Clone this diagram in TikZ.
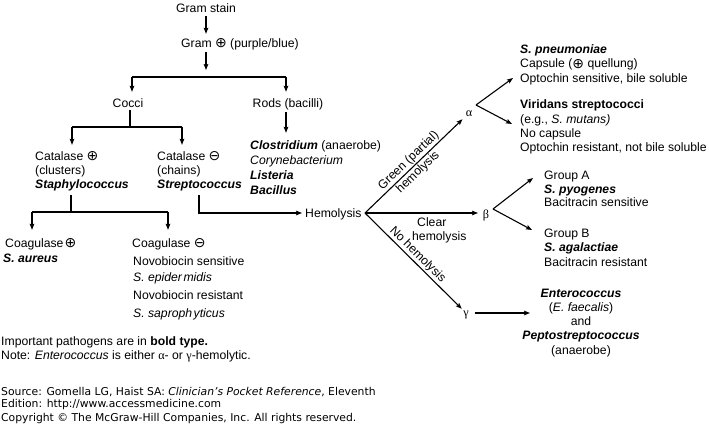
\documentclass[tikz,border=0pt]{standalone}
\usepackage{fontspec}
\setmainfont{Liberation Sans}
\newfontfamily\grk{Liberation Serif}
\newfontfamily\srcf{DejaVu Sans}
\usetikzlibrary{arrows.meta}
\newcommand\bi[1]{\textbf{\textit{#1}}}
\newcommand\cplus{{\srcf\fontsize{14}{14}\selectfont\raisebox{-0.6pt}{⊕}}}
\newcommand\cminus{{\srcf\fontsize{14}{14}\selectfont\raisebox{-0.6pt}{⊖}}}
\begin{document}
\begin{tikzpicture}[x=1pt,y=-1pt,
  t/.style={inner sep=0pt, text height=9pt, text depth=3pt, font=\fontsize{12.2}{14}\selectfont},
  tl/.style={t, anchor=base west},
  tc/.style={t, anchor=base},
  gk/.style={tc, font=\grk\fontsize{12.2}{14}\selectfont},
  lab/.style={inner sep=1.2pt, font=\fontsize{12.2}{14}\selectfont, sloped},
  src/.style={anchor=base west, inner sep=0pt, font=\srcf\fontsize{10.8}{12}\selectfont},
  line/.style={line width=1.1pt, line join=miter},
  arr/.style={line, -{Stealth[length=6pt,width=4.6pt,inset=1pt]}}]
\useasboundingbox (0,0) rectangle (709,429);
% ---------- text nodes ----------
\node[tc] (gs) at (206,12) {Gram stain};
\node[tl] (gp) at (181,47) {Gram \cplus\ (purple/blue)};
\node[tc] (cocci) at (128,107) {Cocci};
\node[tc] (rods) at (288,107) {Rods (bacilli)};
\node[tl] (catp) at (35,160) {Catalase \cplus};
\node[tl] (clus) at (35,174) {(clusters)};
\node[tl] (staph) at (35,188) {\bi{Staphylococcus}};
\node[tl] (catm) at (157,160) {Catalase \cminus};
\node[tl] (chains) at (157,174) {(chains)};
\node[tl] (strep) at (157,188) {\bi{Streptococcus}};
\node[tl] (clos) at (250,149) {\bi{Clostridium} (anaerobe)};
\node[tl] (cory) at (250,164) {\textit{Corynebacterium}};
\node[tl] (list) at (250,179) {\bi{Listeria}};
\node[tl] (bac) at (250,194) {\bi{Bacillus}};
\node[tl] (hem) at (305,217) {Hemolysis};
\node[tl] (coagp) at (5,247) {Coagulase\kern1pt\cplus};
\node[tl] (saur) at (3,262) {\bi{S. aureus}};
\node[tl] (coagm) at (132,247) {Coagulase \cminus};
\node[tl] (novs) at (133,265) {Novobiocin sensitive};
\node[tl] (sepi) at (133,281) {\textit{S. epider\kern1.5pt midis}};
\node[tl] (novr) at (133,299) {Novobiocin resistant};
\node[tl] (ssap) at (133,317) {\textit{S. saproph\kern1.5pt yticus}};
\node[gk] (al) at (469,116) {α};
\node[gk] (be) at (486,218) {β};
\node[gk] (ga) at (466,316) {γ};
\node[tl] (spn) at (520,53) {\bi{S. pneumoniae}};
\node[tl] (caps) at (520,67.5) {Capsule (\cplus\ quellung)};
\node[tl] (opts) at (520,82) {Optochin sensitive, bile soluble};
\node[tl] (vir) at (520,108) {\textbf{Viridans streptococci}};
\node[tl] (eg) at (520,123) {(e.g., \textit{S. mutans)}};
\node[tl] (nocap) at (520,137) {No capsule};
\node[tl] (optr) at (520,151) {Optochin resistant, not bile soluble};
\node[tl] (gra) at (544,179) {Group A};
\node[tl] (spy) at (544,193) {\bi{S. pyogenes}};
\node[tl] (bacs) at (544,206) {Bacitracin sensitive};
\node[tl] (grb) at (544,237) {Group B};
\node[tl] (sag) at (544,251) {\bi{S. agalactiae}};
\node[tl] (bacr) at (544,266) {Bacitracin resistant};
\node[tc] (ent) at (581,297) {\bi{Enterococcus}};
\node[tc] (efa) at (581,311) {(\textit{E. faecalis})};
\node[tc] (and) at (581,325) {and};
\node[tc] (pep) at (581,339) {\bi{Peptostreptococcus}};
\node[tc] (ana) at (581,354) {(anaerobe)};
\node[tl] (clr) at (417,226) {Clear};
\node[tl] (clh) at (412,240) {hemolysis};
\node[tl] (imp) at (1,345) {Important pathogens are in \textbf{bold type.}};
\node[tl] (note) at (1,359) {Note: \textit{Enterococcus} is either {\grk α}- or {\grk γ}-hemolytic.};
\node[src] (src1) at (1,395.5) {Source: Gomella LG, Haist SA: \textit{Clinician’s Pocket Reference}, Eleventh};
\node[src] (src2) at (1,407) {Edition: http://www.accessmedicine.com};
\node[src] (src3) at (1,421) {Copyright © The McGraw-Hill Companies, Inc. All rights reserved.};
% ---------- junction coordinates ----------
\coordinate (j0) at (206,77);
\coordinate (jl) at (132,77);
\coordinate (jr) at (286,77);
\coordinate (k0) at (130,127);
\coordinate (kl) at (72,127);
\coordinate (kr) at (182,127);
\coordinate (s0) at (71,212);
\coordinate (sl) at (32,212);
\coordinate (sr) at (168,212);
\coordinate (h0) at (199,213);
\coordinate (fan) at (365,213);
\coordinate (av) at (476,105);
\coordinate (a1) at (513,78);
\coordinate (a2) at (512,124);
\coordinate (bv) at (493,209);
\coordinate (b1) at (533,178);
\coordinate (b2) at (532,230);
\coordinate (g1) at (530,313);
% ---------- connectors ----------
\draw[arr, shorten <=1pt, shorten >=4pt] (gs.south) -- (gs.south |- gp.north);
\draw[arr, shorten <=2pt, shorten >=7pt] (gs.south |- gp.south) -- (j0);
\draw[line] (jl) -- (jr);
\draw[arr, shorten >=6pt] (jl) -- (jl |- cocci.north);
\draw[arr, shorten >=6pt] (jr) -- (jr |- rods.north);
\draw[line] (k0 |- cocci.south) -- (k0);
\draw[line] (kl) -- (kr);
\draw[arr, shorten >=6pt] (kl) -- (kl |- catp.north);
\draw[arr, shorten >=6pt] (kr) -- (kr |- catm.north);
\draw[arr, shorten <=2pt, shorten >=7pt] (jr |- rods.south) -- (jr |- clos.north);
\draw[line, shorten <=4pt] (s0 |- staph.south) -- (s0);
\draw[line] (sl) -- (sr);
\draw[arr, shorten >=8pt] (sl) -- (sl |- coagp.north);
\draw[arr, shorten >=8pt] (sr) -- (sr |- coagm.north);
\draw[arr, shorten <=4pt, shorten >=3pt] (h0 |- strep.south) -- (h0) -- (h0 -| hem.west);
\draw[arr, shorten >=9pt] (fan) -- node[lab, above, pos=0.47] {Green (partial)} node[lab, below, pos=0.46] {hemolysis} (al.center);
\draw[arr, shorten >=8pt] (fan) -- (fan -| be.center);
\draw[arr, shorten >=6pt] (fan) -- node[lab, above, pos=0.47] {No hemolysis} (ga.center);
\draw[arr] (av) -- (a1);
\draw[arr] (av) -- (a2);
\draw[arr] (bv) -- (b1);
\draw[arr] (bv) -- (b2);
\draw[arr, shorten <=6pt] (ga.east) -- (g1);
\end{tikzpicture}
\end{document}
